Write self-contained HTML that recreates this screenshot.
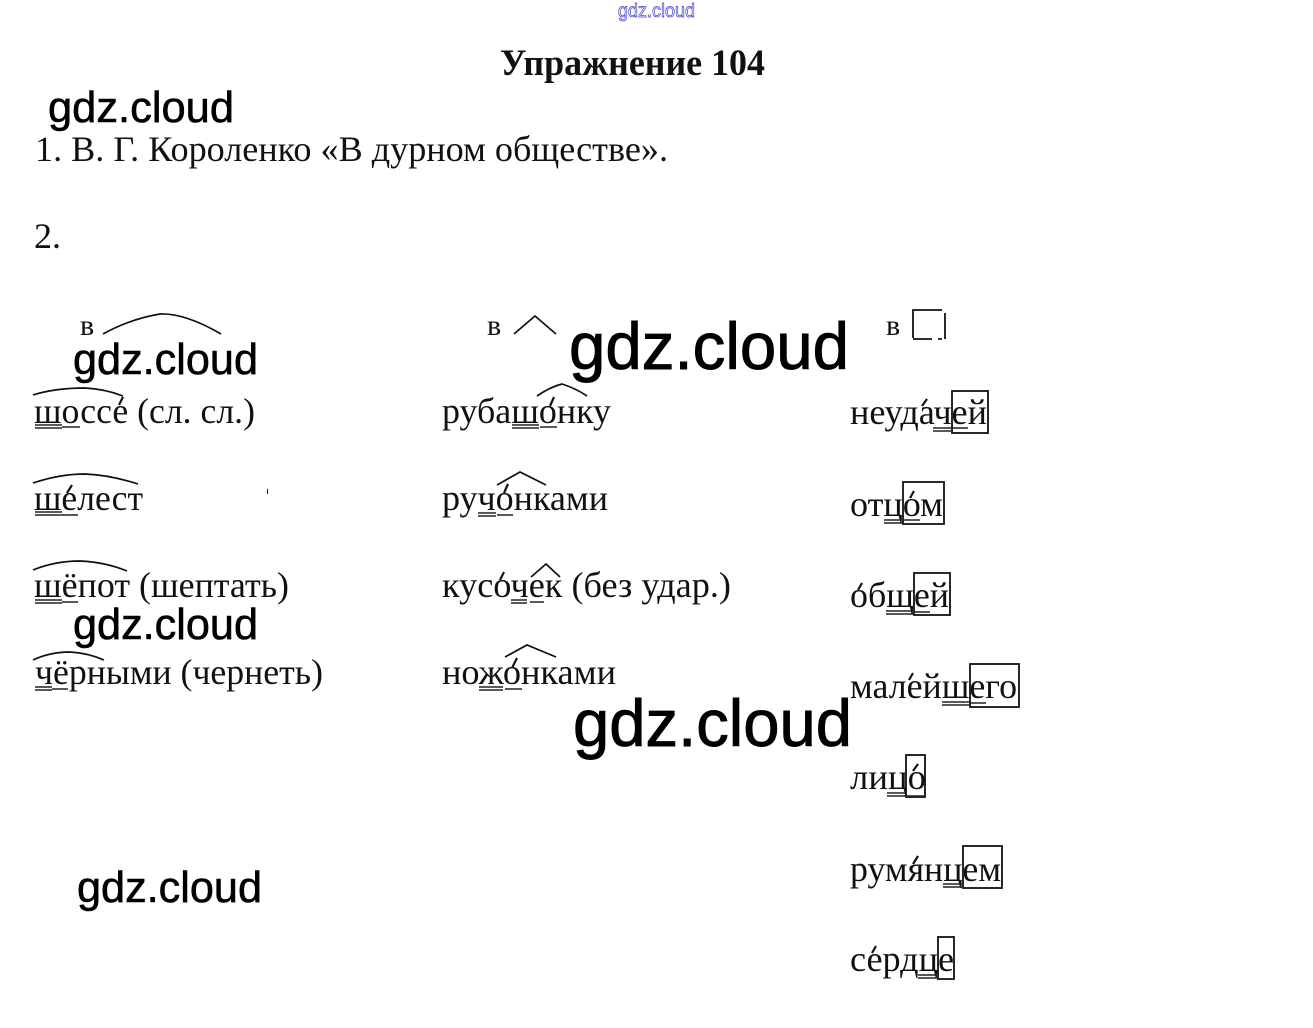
<!DOCTYPE html>
<html lang="ru"><head><meta charset="utf-8"><title>Упражнение 104</title>
<style>
html,body{margin:0;padding:0;background:#fff;width:1313px;height:1028px;overflow:hidden}
svg{display:block}
.t{font-family:"Liberation Serif","Noto Serif CJK SC",serif;font-size:36px;fill:#111}
.s{font-family:"Liberation Serif","Noto Serif CJK SC",serif;font-size:30px;fill:#111}
.w{font-family:"Liberation Sans","DejaVu Sans",sans-serif;fill:#000;stroke:#000}
.l{fill:none;stroke:#111;stroke-width:1.7}
.u{fill:none;stroke:#222;stroke-width:1.5}
.b{fill:none;stroke:#111;stroke-width:1.8}
.a{fill:none;stroke:#111;stroke-width:2.2}
</style></head><body>
<svg width="1313" height="1028" viewBox="0 0 1313 1028" xmlns="http://www.w3.org/2000/svg">
<text x="618" y="17" textLength="77" lengthAdjust="spacingAndGlyphs" style="font-family:'Liberation Sans',sans-serif;font-size:19px;fill:#fff;stroke:#3a3ac8;stroke-width:.7">gdz.cloud</text>
<text x="500" y="75" textLength="265" lengthAdjust="spacingAndGlyphs" style="font-family:'Liberation Serif',serif;font-weight:bold;font-size:37px;fill:#111">Упражнение 104</text>

<text class="t" x="35" y="161" textLength="633" lengthAdjust="spacingAndGlyphs">1. В. Г. Короленко «В дурном обществе».</text>
<text class="t" x="34" y="248" textLength="27" lengthAdjust="spacingAndGlyphs">2.</text>

<!-- column 1 -->
<text class="s" x="80" y="335">в</text>
<path class="l" d="M103 334Q130 319 160 314Q185 313 221 334"/>
<text class="t" x="34" y="423" textLength="221" lengthAdjust="spacingAndGlyphs">шоссе (сл. сл.)</text>
<path class="l" d="M33 395Q55 388 85 388Q105 389 123 396"/>
<path class="a" d="M123 397L119 405"/>
<path class="u" d="M35 425H62M35 428H62M62 427H80"/>
<text class="t" x="34" y="510" textLength="109" lengthAdjust="spacingAndGlyphs">шелест</text>
<path class="l" d="M33 483Q60 474 85 474Q110 475 138 484"/>
<path class="a" d="M72 485L67 493"/>
<path class="u" d="M35 512H62M35 515H62M62 515H78"/>
<rect x="267" y="489" width="1" height="5" fill="#222"/>
<text class="t" x="34" y="597" textLength="255" lengthAdjust="spacingAndGlyphs">шёпот (шептать)</text>
<path class="l" d="M33 570Q55 561 80 561Q105 562 127 571"/>
<path class="u" d="M35 600H62M35 603H62M62 602H78"/>
<text class="t" x="35" y="684" textLength="288" lengthAdjust="spacingAndGlyphs">чёрными (чернеть)</text>
<path class="l" d="M33 660Q50 652 70 652Q88 653 104 660"/>
<path class="u" d="M35 687H52M35 690H52M52 689H68"/>

<!-- column 2 -->
<text class="s" x="487" y="335">в</text>
<path class="l" d="M514 334L535 316L556 334"/>
<text class="t" x="442" y="423" textLength="169" lengthAdjust="spacingAndGlyphs">рубашонку</text>
<path class="l" d="M537 396Q550 387 562 384Q575 388 587 396"/>
<path class="a" d="M554 397L550 406"/>
<path class="u" d="M512 425H539M512 428H539M540 427H557"/>
<text class="t" x="442" y="510" textLength="166" lengthAdjust="spacingAndGlyphs">ручонками</text>
<path class="l" d="M497 485L520 472L546 485"/>
<path class="a" d="M508 484L504 493"/>
<path class="u" d="M478 513H496M478 516H496M497 515H513"/>
<text class="t" x="442" y="597" textLength="289" lengthAdjust="spacingAndGlyphs">кусочек (без удар.)</text>
<path class="l" d="M531 577L546 564L560 577"/>
<path class="a" d="M504 572L500 580"/>
<path class="u" d="M511 600H527M511 603H527M530 602H544"/>
<text class="t" x="442" y="684" textLength="174" lengthAdjust="spacingAndGlyphs">ножонками</text>
<path class="l" d="M505 657L527 645L556 657"/>
<path class="a" d="M517 658L512 668"/>
<path class="u" d="M479 687H503M479 690H503M505 689H522"/>

<!-- column 3 -->
<text class="s" x="886" y="335">в</text>
<path class="b" d="M913 338V310H942M945 313V339M913 339H932M938 339H942"/>
<text class="t" x="850" y="424" textLength="137" lengthAdjust="spacingAndGlyphs">неудачей</text>
<path class="a" d="M927 399L922 406"/>
<rect class="b" x="952" y="391" width="36" height="42"/>
<path class="u" d="M933 428H951M933 431H951M952 428H968"/>
<text class="t" x="850" y="516" textLength="93" lengthAdjust="spacingAndGlyphs">отцом</text>
<path class="a" d="M914 491L910 498"/>
<rect class="b" x="903" y="482" width="41" height="42"/>
<path class="u" d="M884 520H902M884 523H902M903 520H920"/>
<text class="t" x="850" y="607" textLength="99" lengthAdjust="spacingAndGlyphs">общей</text>
<path class="a" d="M862 583L858 590"/>
<rect class="b" x="914" y="573" width="36" height="42"/>
<path class="u" d="M886 611H913M886 614H913M914 612H930"/>
<text class="t" x="850" y="698" textLength="167" lengthAdjust="spacingAndGlyphs">малейшего</text>
<path class="a" d="M913 673L909 680"/>
<rect class="b" x="970" y="664" width="49" height="43"/>
<path class="u" d="M942 702H969M942 705H969M970 703H986"/>
<text class="t" x="850" y="789" textLength="76" lengthAdjust="spacingAndGlyphs">лицо</text>
<path class="a" d="M918 764L913 771"/>
<rect class="b" x="906" y="755" width="19" height="42"/>
<path class="u" d="M887 793H905M887 796H905M906 796H925"/>
<text class="t" x="850" y="881" textLength="151" lengthAdjust="spacingAndGlyphs">румянцем</text>
<path class="a" d="M918 856L913 864"/>
<rect class="b" x="963" y="846" width="39" height="42"/>
<path class="u" d="M943 884H962M943 887H962M963 888H980"/>
<text class="t" x="850" y="971" textLength="104" lengthAdjust="spacingAndGlyphs">сердце</text>
<path class="a" d="M876 946L872 953"/>
<rect class="b" x="938" y="937" width="16" height="42"/>
<path class="u" d="M918 975H937M918 978H937M938 979H954"/>

<!-- watermarks -->
<text class="w" x="48" y="122" font-size="44" stroke-width=".6" textLength="186" lengthAdjust="spacingAndGlyphs">gdz.cloud</text>
<text class="w" x="73" y="374" font-size="44" stroke-width=".6" textLength="185" lengthAdjust="spacingAndGlyphs">gdz.cloud</text>
<text class="w" x="73" y="639" font-size="44" stroke-width=".6" textLength="185" lengthAdjust="spacingAndGlyphs">gdz.cloud</text>
<text class="w" x="77" y="902" font-size="44" stroke-width=".6" textLength="185" lengthAdjust="spacingAndGlyphs">gdz.cloud</text>
<text class="w" x="569" y="369" font-size="66" stroke-width=".9" textLength="280" lengthAdjust="spacingAndGlyphs">gdz.cloud</text>
<text class="w" x="573" y="746" font-size="66" stroke-width=".9" textLength="279" lengthAdjust="spacingAndGlyphs">gdz.cloud</text>
</svg>
</body></html>
